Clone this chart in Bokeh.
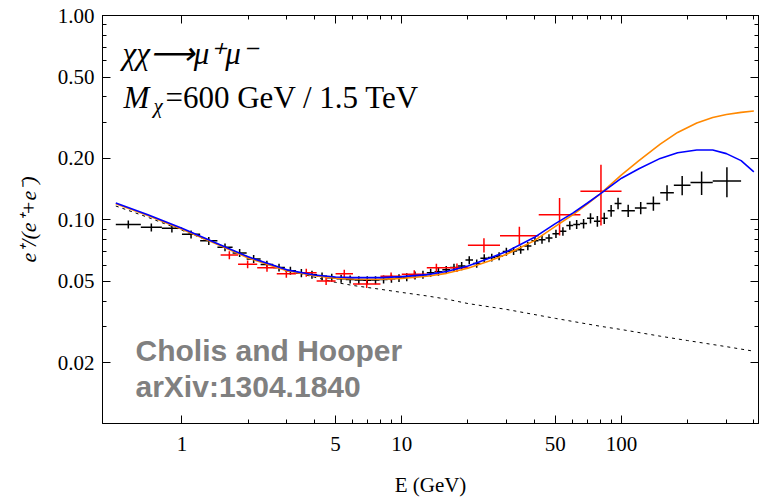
import numpy as np
from bokeh.plotting import figure
from bokeh.models import FixedTicker, LogAxis, PrintfTickFormatter, Label, Range1d
from bokeh.embed import file_html
from bokeh.resources import INLINE

# ---------------- data ----------------
# model curves
curve_E = [0.5, 0.7, 1, 1.5, 2, 3, 4, 5, 6, 8, 10, 13, 16, 20, 25, 30, 40, 50, 60, 70,
           80, 100, 120, 150, 180, 220, 260, 300, 350, 400]
blue_vals = [0.121, 0.106, 0.091, 0.0755, 0.066, 0.0570, 0.0538, 0.0526, 0.0522, 0.0522,
             0.0528, 0.0540, 0.0560, 0.0595, 0.065, 0.070, 0.082, 0.096, 0.108, 0.121,
             0.134, 0.160, 0.178, 0.200, 0.213, 0.220, 0.220, 0.211, 0.195, 0.172]
orange_vals = [0.120, 0.105, 0.090, 0.0748, 0.0652, 0.0565, 0.0533, 0.0519, 0.0514, 0.0513,
               0.0518, 0.0530, 0.0548, 0.0580, 0.0630, 0.068, 0.079, 0.093, 0.106, 0.120,
               0.134, 0.166, 0.195, 0.235, 0.268, 0.298, 0.317, 0.328, 0.336, 0.341]
bkg_E = [0.5, 0.7, 1, 1.5, 2, 3, 4, 5, 6, 8, 10, 13, 16, 20, 30, 50, 80, 100, 150, 200, 300, 400]
bkg_vals = [0.117, 0.103, 0.089, 0.075, 0.066, 0.057, 0.0525, 0.0495, 0.0478, 0.0458,
            0.0442, 0.0425, 0.0410, 0.0390, 0.0365, 0.0330, 0.0302, 0.0291, 0.0270,
            0.0257, 0.0240, 0.0228]

# AMS-02 positron fraction (black)
ams_lo = [0.5, 0.65, 0.81, 1.0, 1.21, 1.45, 1.70, 1.97, 2.28, 2.60, 2.94, 3.30, 3.70, 4.12,
          4.57, 5.05, 5.56, 6.10, 6.67, 7.28, 7.93, 8.62, 9.35, 10.1, 11.0, 12.0, 13.0, 14.1,
          15.3, 16.6, 18.0, 19.5, 21.1, 22.8, 24.7, 26.7, 28.8, 31.1, 33.5, 36.1, 38.9, 41.9,
          45.1, 48.5, 52.2, 56.1, 60.3, 64.8, 69.7, 74.9, 80.5, 86.5, 93.0, 100, 115, 130,
          150, 173, 206, 260]
ams_hi = [0.65, 0.81, 1.0, 1.21, 1.45, 1.70, 1.97, 2.28, 2.60, 2.94, 3.30, 3.70, 4.12, 4.57,
          5.05, 5.56, 6.10, 6.67, 7.28, 7.93, 8.62, 9.35, 10.1, 11.0, 12.0, 13.0, 14.1, 15.3,
          16.6, 18.0, 19.5, 21.1, 22.8, 24.7, 26.7, 28.8, 31.1, 33.5, 36.1, 38.9, 41.9, 45.1,
          48.5, 52.2, 56.1, 60.3, 64.8, 69.7, 74.9, 80.5, 86.5, 93.0, 100, 115, 130, 150,
          173, 206, 260, 350]
ams_val = [0.095, 0.092, 0.091, 0.085, 0.079, 0.0735, 0.069, 0.0645, 0.0605, 0.0585, 0.0565,
           0.0550, 0.0540, 0.0530, 0.0522, 0.0516, 0.0512, 0.0508, 0.0507, 0.0508, 0.0512,
           0.0516, 0.0520, 0.0525, 0.0535, 0.0540, 0.0552, 0.0558, 0.0570, 0.0585, 0.0595,
           0.0636, 0.0612, 0.0650, 0.0655, 0.0665, 0.0700, 0.0705, 0.0715, 0.0745, 0.0790,
           0.0800, 0.0815, 0.0855, 0.0880, 0.0940, 0.0950, 0.0960, 0.1020, 0.0985, 0.1020,
           0.1110, 0.1205, 0.1110, 0.1145, 0.1205, 0.1360, 0.1480, 0.1525, 0.1550]
ams_err = [0.0043, 0.0041, 0.0041, 0.0038, 0.0036, 0.0033, 0.0031, 0.0029, 0.0027, 0.0026,
           0.0025, 0.0025, 0.0024, 0.0024, 0.0023, 0.0023, 0.0023, 0.0023, 0.0023, 0.0023,
           0.0023, 0.0023, 0.0023, 0.0024, 0.0024, 0.0024, 0.0025, 0.0025, 0.0026, 0.0026,
           0.0027, 0.0029, 0.0028, 0.0029, 0.0029, 0.0030, 0.0032, 0.0032, 0.0032, 0.0034,
           0.0036, 0.0036, 0.0037, 0.0040, 0.0042, 0.0045, 0.0048, 0.0052, 0.0058, 0.0060,
           0.0065, 0.0072, 0.0078, 0.0075, 0.0080, 0.0097, 0.0120, 0.0160, 0.0200, 0.0260]

# PAMELA positron fraction (red)
pam_lo = [1.5, 1.8, 2.2, 2.7, 3.3, 4.1, 5.0, 6.0, 8.0, 10.0, 13.0, 15.9, 20.0, 28.0, 42.0, 65.0]
pam_hi = [1.8, 2.2, 2.7, 3.3, 4.1, 5.0, 6.0, 8.0, 10.0, 13.0, 15.9, 20.0, 28.0, 42.0, 65.0, 100.0]
pam_val = [0.0673, 0.0607, 0.0584, 0.0546, 0.0552, 0.0503, 0.0545, 0.0486, 0.0530, 0.0542,
           0.0584, 0.0584, 0.0753, 0.0836, 0.106, 0.138]
pam_err_lo = [0.0030, 0.0027, 0.0026, 0.0025, 0.0025, 0.0023, 0.0025, 0.0022, 0.0024, 0.0025,
              0.0027, 0.0028, 0.0060, 0.0080, 0.0220, 0.044]
pam_err_hi = [0.0030, 0.0027, 0.0026, 0.0025, 0.0025, 0.0023, 0.0025, 0.0022, 0.0024, 0.0025,
              0.0027, 0.0028, 0.0060, 0.0090, 0.0220, 0.048]

# ticks
x_ticks = [1, 5, 10, 50, 100]
x_minor = [2, 3, 4, 6, 7, 8, 9, 20, 30, 40, 60, 70, 80, 90, 200, 300, 400]
y_ticks = [0.02, 0.05, 0.1, 0.2, 0.5, 1.0]
y_minor = [0.03, 0.04, 0.06, 0.07, 0.08, 0.09, 0.3, 0.4, 0.6, 0.7, 0.8, 0.9]

# ---------------- figure ----------------
SERIF = "Liberation Serif"
p = figure(width=759, height=499, x_axis_type="log", y_axis_type="log",
           x_range=Range1d(0.435, 420), y_range=Range1d(0.0101, 1.0),
           output_backend="svg", toolbar_location=None,
           min_border_left=102, min_border_right=1, min_border_top=15, min_border_bottom=74)
p.background_fill_color = "white"
p.border_fill_color = "white"
p.outline_line_color = "black"
p.outline_line_width = 1
p.xgrid.visible = False
p.ygrid.visible = False

def style_axis(ax):
    ax.axis_line_color = "black"
    ax.major_tick_line_color = "black"
    ax.minor_tick_line_color = "black"
    ax.major_tick_in = 8
    ax.major_tick_out = 0
    ax.minor_tick_in = 4
    ax.minor_tick_out = 0
    ax.major_label_text_font = SERIF
    ax.major_label_text_color = "black"
    ax.axis_label_text_color = "black"

p.xaxis.ticker = FixedTicker(ticks=x_ticks, minor_ticks=x_minor)
p.yaxis.ticker = FixedTicker(ticks=y_ticks, minor_ticks=y_minor)
p.xaxis.formatter = PrintfTickFormatter(format="%d")
p.yaxis.formatter = PrintfTickFormatter(format="%.2f")
style_axis(p.xaxis[0])
style_axis(p.yaxis[0])
p.xaxis.major_label_text_font_size = "21px"
p.yaxis.major_label_text_font_size = "21px"
p.xaxis.major_label_standoff = 13
p.yaxis.major_label_standoff = 8

p.xaxis.axis_label = "E (GeV)"
p.xaxis.axis_label_text_font = SERIF
p.xaxis.axis_label_text_font_style = "normal"
p.xaxis.axis_label_text_font_size = "21px"
p.xaxis.axis_label_standoff = 19
p.yaxis.axis_label = "e\u207a/(e\u207a+e\u207b)"
p.yaxis.axis_label_text_font = SERIF
p.yaxis.axis_label_text_font_style = "italic"
p.yaxis.axis_label_text_font_size = "22px"
p.yaxis.axis_label_standoff = 14

# frame ticks on top and right: no labels; long ticks drawn as "minor" ticks of one axis,
# short ticks by a second axis on the same side
def frame_axis(ticks, length):
    ax = LogAxis(ticker=FixedTicker(ticks=[], minor_ticks=ticks))
    ax.axis_line_color = "black"
    ax.minor_tick_line_color = "black"
    ax.minor_tick_in = length
    ax.minor_tick_out = 0
    ax.major_tick_in = 0
    ax.major_tick_out = 0
    ax.major_label_standoff = 0
    return ax

p.add_layout(frame_axis(x_ticks, 8), "above")
p.add_layout(frame_axis(x_minor, 4), "above")
p.add_layout(frame_axis(y_ticks, 8), "right")
p.add_layout(frame_axis(y_minor, 4), "right")

# ---------------- glyphs ----------------
p.line(bkg_E, bkg_vals, line_color="black", line_width=1, line_dash="3 4")

a_lo = np.array(ams_lo); a_hi = np.array(ams_hi)
a_v = np.array(ams_val); a_e = np.array(ams_err)
a_c = np.sqrt(a_lo * a_hi)
p.segment(x0=a_lo, y0=a_v, x1=a_hi, y1=a_v, line_color="black", line_width=1.5)
p.segment(x0=a_c, y0=a_v - a_e, x1=a_c, y1=a_v + a_e, line_color="black", line_width=1.5)

p_lo = np.array(pam_lo); p_hi = np.array(pam_hi)
p_v = np.array(pam_val)
p_c = np.sqrt(p_lo * p_hi)
p.segment(x0=p_lo, y0=p_v, x1=p_hi, y1=p_v, line_color="#ff0000", line_width=1.5)
p.segment(x0=p_c, y0=p_v - np.array(pam_err_lo), x1=p_c, y1=p_v + np.array(pam_err_hi),
          line_color="#ff0000", line_width=1.5)

p.line(curve_E, orange_vals, line_color="#ff8800", line_width=1.6)
p.line(curve_E, blue_vals, line_color="#0000ff", line_width=1.6)

# ---------------- annotations ----------------
def lab(text, x, y, size, style="normal", font=SERIF, color="black"):
    p.add_layout(Label(x=x, y=y, x_units="screen", y_units="screen", text=text,
                       text_font=font, text_font_size=size, text_font_style=style,
                       text_color=color, text_baseline="alphabetic", text_align="left"))

lab("\u03c7\u03c7\u27f6\u03bc\u207a\u03bc\u207b", 20, 370, "31px", "italic")
lab("M", 21, 326, "31px", "italic")
lab("\u03c7", 51, 318, "21px", "italic")
lab("=600 GeV / 1.5 TeV", 63, 326, "31px")
lab("Cholis and Hooper", 33, 73, "30px", "bold", "Liberation Sans", "#808080")
lab("arXiv:1304.1840", 33, 37, "30px", "bold", "Liberation Sans", "#808080")

open("out.html", "w").write(file_html(p, INLINE))
